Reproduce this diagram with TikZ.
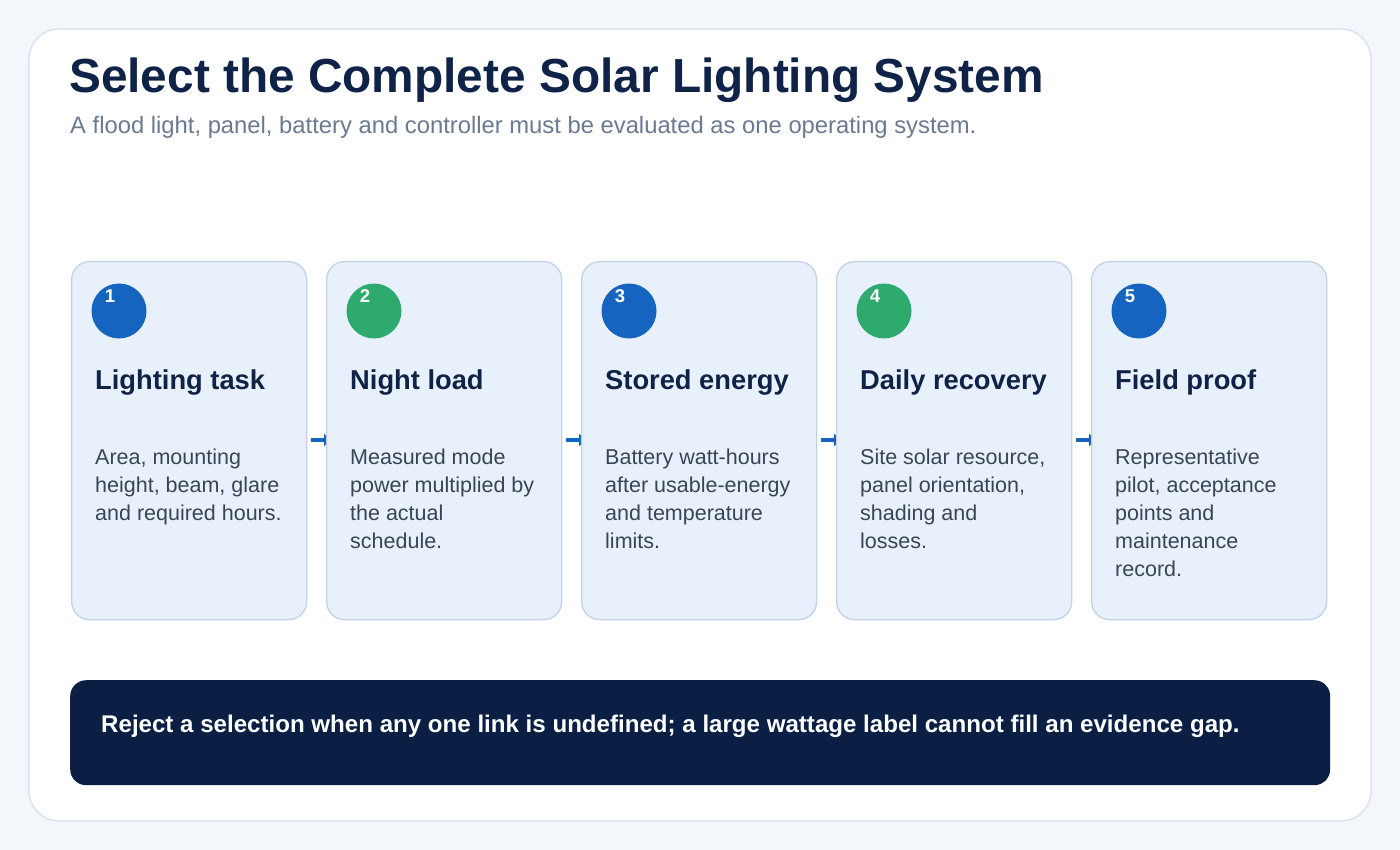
\documentclass[tikz,border=0pt]{standalone}
\usepackage{fontspec}
\setmainfont{Liberation Sans}
\usetikzlibrary{arrows.meta}
\definecolor{bgc}{HTML}{F3F7FB}
\definecolor{panelborder}{HTML}{D5DEEA}
\definecolor{cardfill}{HTML}{E8F1FB}
\definecolor{cardborder}{HTML}{C2D3E8}
\definecolor{navy}{HTML}{0F2348}
\definecolor{subgrey}{HTML}{6B7A90}
\definecolor{bodytxt}{HTML}{3A4456}
\definecolor{bluec}{HTML}{1565C0}
\definecolor{greenc}{HTML}{2EAA6E}
\definecolor{barfill}{HTML}{0B1F45}
\tikzset{
  cardbox/.style={draw=cardborder, line width=1.3pt, fill=cardfill, rounded corners=18pt, minimum width=235pt, minimum height=358pt, anchor=north west, inner sep=0pt},
  numdot/.style={circle, minimum size=55pt, inner sep=0pt},
  numtxt/.style={text=white, font=\fontsize{18.5}{20}\selectfont\bfseries, anchor=base, inner sep=0pt},
  headtxt/.style={text=navy, font=\fontsize{27.3}{30}\selectfont\bfseries, anchor=base west, inner sep=0pt},
  bodytext/.style={text=bodytxt, font=\fontsize{21.5}{28}\selectfont, anchor=north west, inner sep=0pt, align=left},
  flowarrow/.style={draw=bluec, line width=3.5pt, -{Triangle[length=7pt,width=12pt]}},
}
\begin{document}
\begin{tikzpicture}[x=1pt,y=-1pt]
\useasboundingbox (0,0) rectangle (1400,850);
\fill[bgc] (0,0) rectangle (1400,850);
\draw[draw=panelborder, line width=1.2pt, fill=white, rounded corners=30pt] (29,29) rectangle (1371,821);
\node[text=navy, font=\fontsize{47.8}{56}\selectfont\bfseries, anchor=base west, inner sep=0pt] (title) at (69,93) {Select the Complete Solar Lighting System};
\node[text=subgrey, font=\fontsize{23.8}{28}\selectfont, anchor=base west, inner sep=0pt] (sub) at (70,134) {A flood light, panel, battery and controller must be evaluated as one operating system.};
% arrows (behind cards)
\coordinate (a1s) at (311,440); \coordinate (a1e) at (331,440);
\coordinate (a2s) at (566,440); \coordinate (a2e) at (586,440);
\coordinate (a3s) at (821,440); \coordinate (a3e) at (841,440);
\coordinate (a4s) at (1076,440); \coordinate (a4e) at (1096,440);
\draw[flowarrow] (a1s) -- (a1e);
\draw[flowarrow] (a2s) -- (a2e);
\draw[flowarrow] (a3s) -- (a3e);
\draw[flowarrow] (a4s) -- (a4e);
% cards
\foreach \i/\x/\col/\head/\body in {
 1/71/bluec/Lighting task/{Area, mounting\\height, beam, glare\\and required hours.},
 2/326/greenc/Night load/{Measured mode\\power multiplied by\\the actual\\schedule.},
 3/581/bluec/Stored energy/{Battery watt-hours\\after usable-energy\\and temperature\\limits.},
 4/836/greenc/Daily recovery/{Site solar resource,\\panel orientation,\\shading and\\losses.},
 5/1091/bluec/Field proof/{Representative\\pilot, acceptance\\points and\\maintenance\\record.}}{
  \node[cardbox] (c\i) at (\x,261) {};
  \node[numdot, fill=\col] (d\i) at (\x+48,311) {};
  \node[numtxt] (n\i) at (\x+39,302) {\i};
  \node[headtxt] (h\i) at (\x+24,389) {\head};
  \node[bodytext] (b\i) at (\x+24,449) {\body};
}
% bottom bar
\node[fill=barfill, rounded corners=16pt, minimum width=1260pt, minimum height=105pt, anchor=north west, inner sep=0pt] (bar) at (70,680) {};
\node[text=white, font=\fontsize{24.1}{28}\selectfont\bfseries, anchor=base west, inner sep=0pt] (bartxt) at (101,732) {Reject a selection when any one link is undefined; a large wattage label cannot fill an evidence gap.};
\end{tikzpicture}
\end{document}
